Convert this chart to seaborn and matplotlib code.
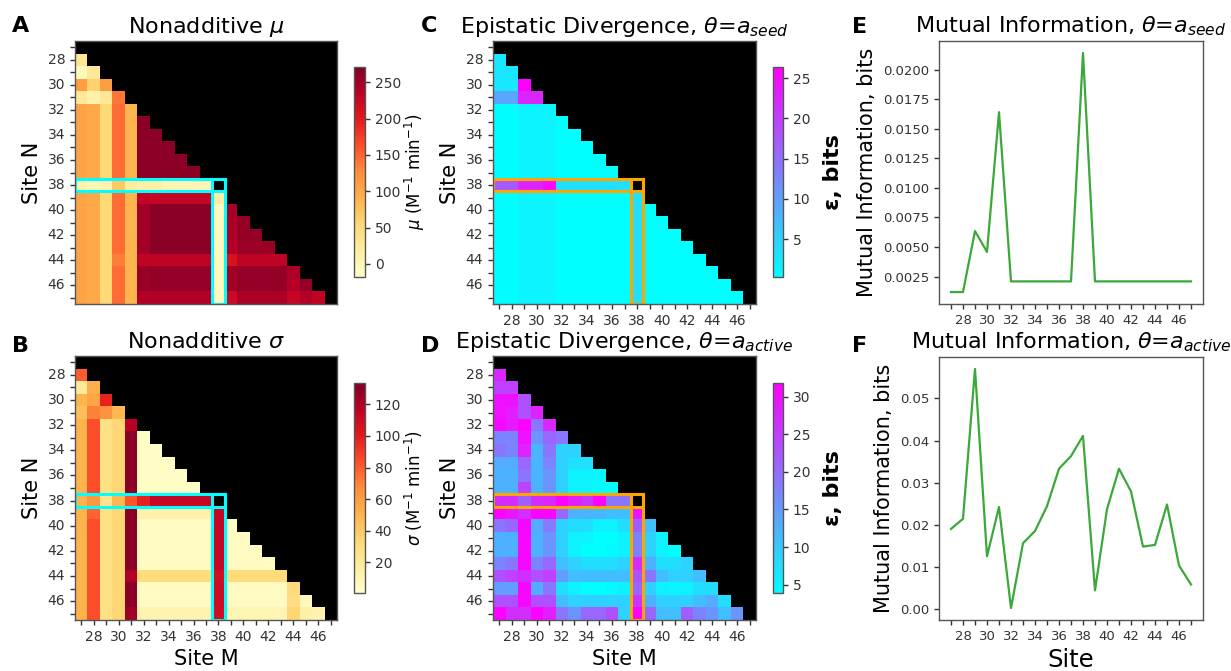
import numpy as np
import pandas as pd
import matplotlib
matplotlib.use("Agg")
import matplotlib.pyplot as plt
import seaborn as sns
from matplotlib.patches import Rectangle

# ---------------- data ----------------
sites = [27, 28, 29, 30, 31, 32, 33, 34, 35, 36, 37, 38, 39, 40, 41, 42, 43, 44, 45, 46, 47]
highlight_site = 38

# lower-triangle rows (site N = 27..47), entries for site M = 27 .. N-1
mu_lower = [
    [],
    [30],
    [-5, 25],
    [110, 60, 110],
    [25, 10, 30, 140],
    [105, 100, 55, 145, 88],
    [105, 100, 55, 145, 88, 262],
    [105, 100, 55, 145, 88, 262, 262],
    [105, 100, 55, 145, 88, 262, 262, 262],
    [105, 100, 55, 145, 88, 262, 262, 262, 262],
    [105, 100, 55, 145, 88, 262, 262, 262, 262, 262],
    [10, 0, 5, 70, 20, 12, 12, 2, 2, 2, 2],
    [105, 100, 55, 145, 88, 230, 228, 228, 228, 228, 228, 15],
    [105, 100, 55, 145, 88, 250, 265, 265, 265, 265, 265, -5, 248],
    [105, 100, 55, 145, 88, 250, 265, 265, 265, 265, 265, -5, 245, 258],
    [105, 100, 55, 145, 88, 250, 265, 265, 265, 265, 265, -5, 245, 258, 258],
    [105, 100, 55, 145, 88, 250, 265, 265, 265, 265, 265, -5, 240, 255, 255, 255],
    [105, 100, 55, 135, 88, 232, 232, 232, 232, 232, 232, -5, 210, 232, 232, 232, 232],
    [105, 100, 55, 145, 88, 255, 258, 258, 258, 258, 258, -5, 250, 258, 258, 258, 258, 245],
    [105, 100, 55, 145, 88, 255, 258, 258, 258, 258, 258, -5, 250, 258, 258, 258, 258, 240, 258],
    [105, 100, 55, 145, 88, 240, 240, 240, 240, 240, 240, -5, 222, 245, 245, 245, 245, 228, 240, 232],
]

sigma_lower = [
    [],
    [80],
    [20, 52],
    [50, 56, 98],
    [45, 70, 64, 48],
    [50, 84, 28, 35, 117],
    [50, 84, 28, 35, 130, 3],
    [50, 84, 28, 35, 130, 3, 3],
    [50, 84, 28, 35, 130, 3, 3, 3],
    [50, 84, 28, 35, 130, 3, 3, 3, 3],
    [50, 84, 28, 35, 130, 3, 3, 3, 3, 3],
    [50, 62, 25, 48, 82, 98, 113, 113, 113, 113, 113],
    [50, 78, 28, 35, 130, 14, 14, 14, 14, 14, 14, 113],
    [50, 84, 28, 35, 130, 5, 5, 5, 5, 5, 5, 113, 5],
    [50, 84, 28, 35, 130, 5, 5, 5, 5, 5, 5, 113, 5, 5],
    [50, 84, 28, 35, 130, 5, 5, 5, 5, 5, 5, 113, 5, 5, 5],
    [50, 84, 28, 35, 130, 5, 5, 5, 5, 5, 5, 113, 5, 5, 5, 5],
    [50, 84, 28, 35, 120, 32, 32, 32, 32, 32, 32, 108, 32, 32, 32, 32, 32],
    [50, 84, 28, 35, 130, 5, 5, 5, 5, 5, 5, 110, 5, 5, 5, 5, 5, 32],
    [50, 84, 28, 35, 130, 5, 5, 5, 5, 5, 5, 110, 5, 5, 5, 5, 5, 30, 8],
    [50, 84, 28, 35, 125, 12, 12, 12, 12, 12, 12, 108, 10, 10, 10, 10, 10, 35, 15, 12],
]

eps_seed_lower = [
    [],
    [2.9],
    [2.9, 2.9],
    [2.9, 2.9, 26.4],
    [9.4, 9.4, 22.5, 22.5],
    [0.5, 0.5, 1.5, 1.5, 1.5],
    [0.5, 0.5, 1.5, 1.5, 1.5, 0.4],
    [0.5, 0.5, 1.5, 1.5, 1.5, 0.4, 0.4],
    [0.5, 0.5, 1.5, 1.5, 1.5, 0.4, 0.4, 0.4],
    [0.5, 0.5, 1.5, 1.5, 1.5, 0.4, 0.4, 0.4, 0.4],
    [0.5, 0.5, 1.5, 1.5, 1.5, 0.4, 0.4, 0.4, 0.4, 0.4],
    [17.3, 17.3, 22.5, 22.5, 25.0, 3.5, 3.5, 3.5, 3.5, 3.5, 3.5],
    [0.5, 0.5, 1.5, 1.5, 1.5, 0.4, 0.4, 0.4, 0.4, 0.4, 0.4, 3.5],
    [0.5, 0.5, 1.5, 1.5, 1.5, 0.4, 0.4, 0.4, 0.4, 0.4, 0.4, 3.5, 0.4],
    [0.5, 0.5, 1.5, 1.5, 1.5, 0.4, 0.4, 0.4, 0.4, 0.4, 0.4, 3.5, 0.4, 0.4],
    [0.5, 0.5, 1.5, 1.5, 1.5, 0.4, 0.4, 0.4, 0.4, 0.4, 0.4, 3.5, 0.4, 0.4, 0.4],
    [0.5, 0.5, 1.5, 1.5, 1.5, 0.4, 0.4, 0.4, 0.4, 0.4, 0.4, 3.5, 0.4, 0.4, 0.4, 0.4],
    [0.5, 0.5, 1.5, 1.5, 1.5, 0.4, 0.4, 0.4, 0.4, 0.4, 0.4, 3.5, 0.4, 0.4, 0.4, 0.4, 0.4],
    [0.5, 0.5, 1.5, 1.5, 1.5, 0.4, 0.4, 0.4, 0.4, 0.4, 0.4, 3.5, 0.4, 0.4, 0.4, 0.4, 0.4, 0.4],
    [0.5, 0.5, 1.5, 1.5, 1.5, 0.4, 0.4, 0.4, 0.4, 0.4, 0.4, 3.5, 0.4, 0.4, 0.4, 0.4, 0.4, 0.4, 0.4],
    [0.5, 0.5, 1.5, 1.5, 1.5, 0.4, 0.4, 0.4, 0.4, 0.4, 0.4, 3.5, 0.4, 0.4, 0.4, 0.4, 0.4, 0.4, 0.4, 0.4],
]

eps_active_lower = [
    [],
    [27.6],
    [24.8, 24.8],
    [30, 30, 23],
    [30, 28.5, 23, 28],
    [31, 29, 31.5, 19, 27.5],
    [17.5, 17.5, 30, 15.5, 20.5, 19],
    [19, 17.5, 28, 12, 19, 9, 9],
    [13, 13, 20.5, 12, 17.5, 9, 7.4, 7.4],
    [12.5, 12.5, 19, 12, 15.5, 9, 5.5, 5.5, 4.8],
    [12.5, 12.5, 24.5, 12, 15.5, 9, 5.5, 5.5, 4.5, 4],
    [27, 27, 21.5, 27, 27.5, 31.5, 28.5, 26, 31.5, 19, 19],
    [31.5, 29.5, 27, 31.5, 31, 20.5, 12.5, 12, 12, 11, 11, 29.5],
    [19, 20.5, 31, 13, 18.5, 9, 7.5, 7.5, 5.5, 5.5, 7.5, 21.5, 11],
    [12.5, 12.5, 31, 12.5, 15.5, 9, 5.5, 5, 4, 4, 5.5, 17.5, 9, 5.5],
    [12.5, 12.5, 31, 12.5, 15.5, 9, 5.5, 4, 4, 4.5, 5.5, 17.5, 9, 5.5, 4],
    [17.5, 19, 31, 17.5, 20.5, 11, 9, 7.5, 7.5, 7.5, 9, 27, 12.5, 7.5, 7.5, 9],
    [23, 24.8, 27, 23, 24.8, 14.5, 11, 11, 11, 11, 11, 23, 19, 11, 9, 9, 11],
    [14.5, 14.5, 31, 13, 19, 7.5, 5.5, 4, 4, 4.5, 5.5, 20.5, 9, 5.5, 5, 5.5, 7.5, 7.5],
    [23, 23, 31, 23, 23, 11, 9, 9, 9, 9, 9, 26, 12.5, 9, 9, 9, 11, 13, 7.5],
    [31.5, 27, 27, 31.5, 28.5, 19, 15.5, 20.5, 20.5, 23, 9, 31.5, 20.5, 11, 11, 21.5, 17.5, 15.5, 11, 15.5],
]

mi_seed = [0.0012, 0.0012, 0.00635, 0.00459, 0.0164, 0.0021, 0.0021, 0.0021, 0.0021, 0.0021,
           0.0021, 0.0214, 0.0021, 0.0021, 0.0021, 0.0021, 0.0021, 0.0021, 0.0021, 0.0021, 0.0021]
mi_active = [0.0190, 0.0214, 0.0570, 0.0125, 0.0242, 0.0002, 0.0156, 0.0185, 0.0244, 0.0333,
             0.0363, 0.0411, 0.0044, 0.0237, 0.0333, 0.0279, 0.0148, 0.0152, 0.0248, 0.0103, 0.0058]

tick_labels = [str(s) if s % 2 == 0 else "" for s in sites]

# ---------------- figure ----------------
W, H = 1231, 671
fig = plt.figure(figsize=(W / 100, H / 100), dpi=100)
FRAME = "#555555"
TXT = "#333333"


def box(x0, y0, x1, y1):
    return [x0 / W, 1 - y1 / H, (x1 - x0) / W, (y1 - y0) / H]


def to_frame(rows):
    m = np.full((len(sites), len(sites)), np.nan)
    for i, r in enumerate(rows):
        m[i, :len(r)] = r
    return pd.DataFrame(m, index=sites, columns=sites)


def heat(rows, axb, caxb, cmap, vmin, vmax, title, clabel, ckw, hl_color, show_x, xlabel):
    ax = fig.add_axes(box(*axb))
    cax = fig.add_axes(box(*caxb))
    ax.set_facecolor("black")
    sns.heatmap(to_frame(rows), ax=ax, cbar_ax=cax, cmap=cmap, vmin=vmin, vmax=vmax)
    n = len(sites)
    ax.set_yticks(np.arange(n) + 0.5)
    ax.set_yticklabels(tick_labels, rotation=0)
    if show_x:
        ax.set_xticks(np.arange(n) + 0.5)
        ax.set_xticklabels(tick_labels, rotation=0)
    else:
        ax.set_xticks([])
    ax.tick_params(length=3.5, width=1, color=TXT, labelcolor=TXT, labelsize=10)
    for s in ax.spines.values():
        s.set_visible(True)
        s.set_color(FRAME)
        s.set_linewidth(1)
    ax.set_ylabel("Site N", fontsize=15)
    ax.set_xlabel(xlabel, fontsize=15)
    ax.set_title(title, fontsize=16)
    k = sites.index(highlight_site)
    ax.add_patch(Rectangle((0, k), k + 1, 1, fill=False, edgecolor=hl_color, lw=2.2))
    ax.add_patch(Rectangle((k, k), 1, n - k, fill=False, edgecolor=hl_color, lw=2.2))
    cb = ax.collections[0].colorbar
    cb.outline.set_visible(True)
    cb.outline.set_linewidth(1)
    cb.outline.set_edgecolor(FRAME)
    cb.ax.tick_params(length=3.5, width=1, color=TXT, labelcolor=TXT, labelsize=10)
    cb.set_label(clabel, **ckw)
    return ax


unit_kw = dict(fontsize=12, labelpad=1)
eps_kw = dict(fontsize=16, fontweight="bold", labelpad=9)

heat(mu_lower, (75, 41, 337, 304), (354, 67, 365, 277), "YlOrRd", -18, 271,
     r"Nonadditive $\mu$", r"$\mu$ (M$^{-1}$ min$^{-1}$)", unit_kw, "#00ffff", False, "")
heat(sigma_lower, (75, 356, 337, 620), (354, 383, 365, 593), "YlOrRd", 0.6, 133.5,
     r"Nonadditive $\sigma$", r"$\sigma$ (M$^{-1}$ min$^{-1}$)", unit_kw, "#00ffff", True, "Site M")
heat(eps_seed_lower, (493, 41, 756, 304), (773, 67, 783, 277), "cool", 0.3, 26.4,
     r"Epistatic Divergence, $\theta$=$a_{seed}$", "ε, bits", eps_kw, "#ffa500", True, "")
heat(eps_active_lower, (493, 356, 756, 620), (773, 383, 783, 593), "cool", 3.9, 31.8,
     r"Epistatic Divergence, $\theta$=$a_{active}$", "ε, bits", eps_kw, "#ffa500", True, "Site M")


def mi_panel(values, axb, title, xlabel):
    ax = fig.add_axes(box(*axb))
    sns.lineplot(x=sites, y=values, ax=ax, color="#3aa83a", lw=1.6)
    ax.set_xticks(sites)
    ax.set_xticklabels(tick_labels)
    ax.tick_params(length=3.5, width=1, color=TXT, labelcolor=TXT, labelsize=9.5)
    for s in ax.spines.values():
        s.set_color(FRAME)
        s.set_linewidth(1)
    ax.set_ylabel("Mutual Information, bits", fontsize=15)
    ax.set_xlabel(xlabel, fontsize=17.5)
    ax.set_title(title, fontsize=16)
    return ax


mi_panel(mi_seed, (939, 41, 1203, 304), r"Mutual Information, $\theta$=$a_{seed}$", "")
mi_panel(mi_active, (939, 357, 1203, 620), r"Mutual Information, $\theta$=$a_{active}$", "Site")

for letter, (px, py) in {"A": (12, 16), "B": (12, 336), "C": (421, 16),
                         "D": (421, 336), "E": (852, 17), "F": (852, 336)}.items():
    fig.text(px / W, 1 - py / H, letter, fontsize=16, fontweight="bold", ha="left", va="top")

fig.savefig("out.png", dpi=100)
